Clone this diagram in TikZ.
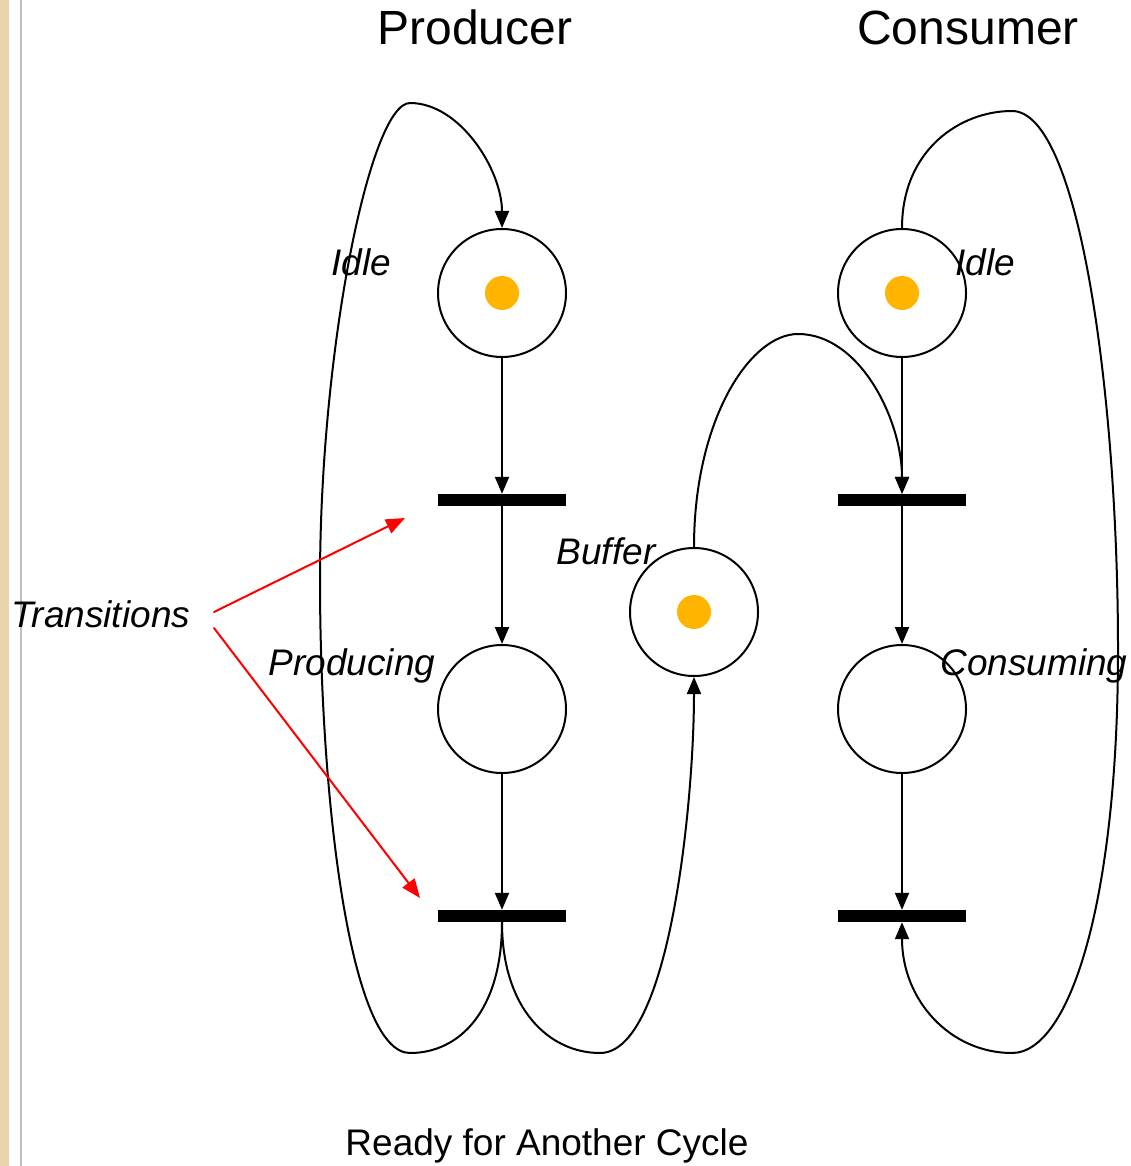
\documentclass[tikz,border=0pt]{standalone}
\usepackage{fontspec}
\setmainfont{Liberation Sans}
\usetikzlibrary{arrows.meta}
\definecolor{tokencol}{RGB}{255,180,0}
\definecolor{sidebar}{RGB}{232,214,170}
\begin{document}
\begin{tikzpicture}[x=1pt, y=-1pt, line join=round, line cap=round,
    place/.style={circle, draw, line width=2pt, minimum size=128pt, inner sep=0pt},
    trans/.style={rectangle, fill=black, minimum width=128pt, minimum height=12pt, inner sep=0pt},
    tok/.style={circle, fill=tokencol, minimum size=34pt, inner sep=0pt},
    lbl/.style={anchor=base, inner sep=0pt, font=\fontsize{37}{41}\selectfont\itshape},
    ttl/.style={anchor=base, inner sep=0pt, font=\fontsize{48}{52}\selectfont},
    arc/.style={line width=2pt, -{Triangle[length=17pt,width=14pt]}},
    hint/.style={red, line width=2pt, -{Triangle[length=19pt,width=15pt]}}]
    \useasboundingbox (0,0) rectangle (1130,1166);
    \fill[sidebar] (0,0) rectangle (9,1166);
    \draw[black!25, line width=1.5pt] (21,0) -- (21,1166);

    % places and transitions
    \node[place] (pidle) at (502,293) {};
    \node[tok] at (pidle) {};
    \node[trans] (pt1) at (502,500) {};
    \node[place] (pprod) at (502,709) {};
    \node[trans] (pt2) at (502,916) {};
    \node[place] (buf) at (694,612) {};
    \node[tok] at (buf) {};
    \node[place] (cidle) at (902,293) {};
    \node[tok] at (cidle) {};
    \node[trans] (ct1) at (902,500) {};
    \node[place] (ccons) at (902,709) {};
    \node[trans] (ct2) at (902,916) {};

    \draw[arc] (pidle) -- (pt1);
    \draw[arc] (pt1) -- (pprod);
    \draw[arc] (pprod) -- (pt2);
    \draw[arc] (cidle) -- (ct1);
    \draw[arc] (ct1) -- (ccons);
    \draw[arc] (ccons) -- (ct2);

    % loops
    \draw[arc] (pt2.south) .. controls (502,1010) and (460,1053) .. (410,1053)
        .. controls (350,1053) and (320,800) .. (320,580)
        .. controls (320,350) and (370,103) .. (410,103)
        .. controls (460,103) and (502,170) .. (pidle.north);
    \draw[arc] (pt2.south) .. controls (502,1010) and (550,1053) .. (600,1053)
        .. controls (670,1053) and (694,800) .. (buf.south);
    \draw[arc] (buf.north) .. controls (694,420) and (750,334) .. (798,334)
        .. controls (860,334) and (902,420) .. (ct1.north);
    \draw[arc] (cidle.north) .. controls (902,150) and (960,111) .. (1012,111)
        .. controls (1080,111) and (1118,400) .. (1118,650)
        .. controls (1118,900) and (1070,1053) .. (1012,1053)
        .. controls (950,1053) and (902,1000) .. (ct2.south);

    % labels
    \node[ttl] (ptitle) at (475,45) {Producer};
    \node[ttl] (ctitle) at (968,45) {Consumer};
    \node[lbl] (pidlelbl) at (361,275) {Idle};
    \node[lbl] (cidlelbl) at (985,275) {Idle};
    \node[lbl] (buflbl) at (606,564) {Buffer};
    \node[lbl] (pprodlbl) at (352,675) {Producing};
    \node[lbl] (cconslbl) at (1034,675) {Consuming};
    \node[lbl] (translbl) at (101,627) {Transitions};
    \node[anchor=base, inner sep=0pt, font=\fontsize{37}{41}\selectfont] (cyclelbl) at (547,1155) {Ready for Another Cycle};

    \coordinate (hintA) at (214,612);
    \coordinate (hintB) at (214,628);
    \coordinate (tipA) at (405,518);
    \coordinate (tipB) at (420,898);
    \draw[hint] (hintA) -- (tipA);
    \draw[hint] (hintB) -- (tipB);
\end{tikzpicture}
\end{document}
